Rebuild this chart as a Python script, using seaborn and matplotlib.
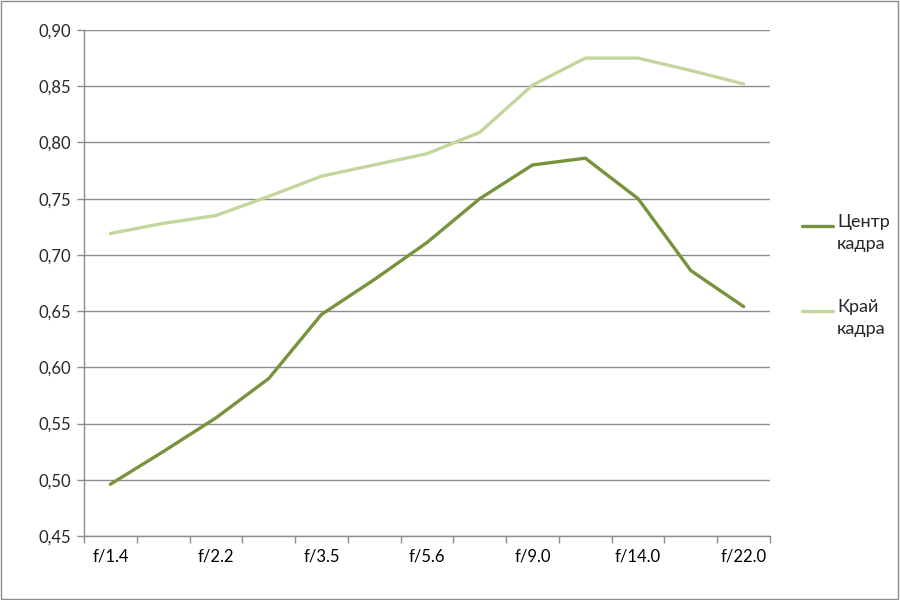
import pandas as pd
import numpy as np
import matplotlib
matplotlib.use("Agg")
import matplotlib.pyplot as plt
import seaborn as sns
from matplotlib.ticker import FuncFormatter

# диафрагмы (подписаны только через одну, как в оригинале)
APERTURES = ["f/1.4", "f/1.8", "f/2.2", "f/2.8", "f/3.5", "f/4.5", "f/5.6",
             "f/7.1", "f/9.0", "f/11.0", "f/14.0", "f/18.0", "f/22.0"]
CENTER = [0.496, 0.525, 0.555, 0.590, 0.647, 0.678, 0.711,
          0.750, 0.780, 0.786, 0.750, 0.686, 0.654]
EDGE = [0.719, 0.728, 0.735, 0.752, 0.770, 0.780, 0.790,
        0.809, 0.851, 0.875, 0.875, 0.864, 0.852]
SERIES = ["Центр\nкадра", "Край\nкадра"]
COLORS = ["#77933C", "#C3D69B"]

sns.set_style("white")
plt.rcParams["font.family"] = ["Lato", "Open Sans", "DejaVu Sans"]

df = pd.DataFrame({
    "aperture": APERTURES * 2,
    "value": CENTER + EDGE,
    "series": [SERIES[0]] * len(APERTURES) + [SERIES[1]] * len(APERTURES),
})
df["pos"] = df["aperture"].map({a: i for i, a in enumerate(APERTURES)})

fig = plt.figure(figsize=(9, 6), dpi=100)
ax = fig.add_axes([0.0933, 0.1067, 0.7623, 0.8433])

sns.lineplot(data=df, x="pos", y="value", hue="series", palette=COLORS,
             linewidth=2.4, ax=ax, legend=False, sort=False)

grid_c = "#8C8C8C"
ax.set_xlim(-0.5, len(APERTURES) - 0.5)
ax.set_ylim(0.45, 0.90)
ax.set_yticks(np.arange(0.45, 0.901, 0.05))
ax.yaxis.set_major_formatter(FuncFormatter(lambda v, p: f"{v:.2f}".replace(".", ",")))
ax.yaxis.grid(True, color=grid_c, linewidth=1)
ax.set_axisbelow(True)

ax.set_xticks(range(0, len(APERTURES), 2))
ax.set_xticklabels(APERTURES[::2])
ax.set_xticks(np.arange(-0.5, len(APERTURES), 1), minor=True)
ax.tick_params(axis="x", which="major", length=0, pad=9, labelsize=12, colors="black")
ax.tick_params(axis="x", which="minor", length=5, color=grid_c, width=1, bottom=True)
ax.tick_params(axis="y", length=5, color=grid_c, width=1, left=True, labelsize=12, pad=4)
ax.set_xlabel("")
ax.set_ylabel("")

for s in ["top", "right"]:
    ax.spines[s].set_visible(False)
for s in ["left", "bottom"]:
    ax.spines[s].set_color(grid_c)
    ax.spines[s].set_linewidth(1)

handles = [plt.Line2D([], [], color=c, linewidth=2.4) for c in COLORS]
leg = fig.legend(handles, SERIES, loc="upper left", bbox_to_anchor=(0.873, 0.67),
                 frameon=False, fontsize=13, handlelength=1.7, handletextpad=0.25,
                 labelspacing=2.6)
for t in leg.get_texts():
    t.set_linespacing(1.45)
# линия маркера на уровне первой строки подписи, как в Excel
for ln in leg.get_lines():
    ln.set_ydata(np.asarray(ln.get_ydata()) + 5)

# рамка вокруг всей картинки
fig.patches.append(plt.Rectangle((0.001, 0.001), 0.997, 0.997, transform=fig.transFigure,
                                 fill=False, edgecolor="#8C8C8C", linewidth=1))

fig.savefig("out.png", dpi=100)
